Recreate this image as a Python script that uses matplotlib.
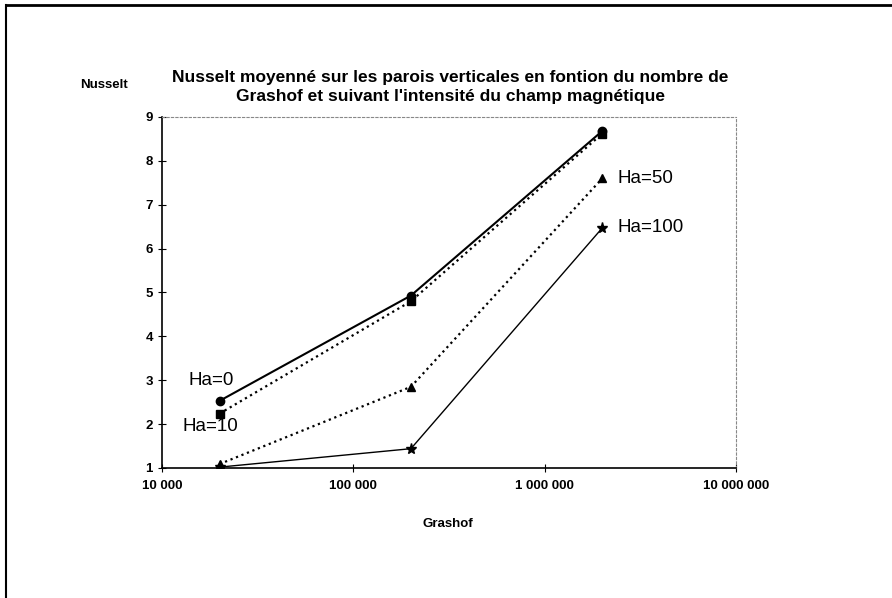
import matplotlib.pyplot as plt
from matplotlib.lines import Line2D

plt.rcParams['font.family'] = ['Liberation Sans', 'DejaVu Sans']

grashof = [2e4, 2e5, 2e6]
nu_ha0 = [2.53, 4.93, 8.68]
nu_ha10 = [2.24, 4.80, 8.62]
nu_ha50 = [1.09, 2.85, 7.60]
nu_ha100 = [1.02, 1.44, 6.47]

x_ticks = [1e4, 1e5, 1e6, 1e7]
x_labels = ['10 000', '100 000', '1 000 000', '10 000 000']
y_ticks = [1, 2, 3, 4, 5, 6, 7, 8, 9]

fig = plt.figure(figsize=(8.92, 5.98), dpi=100)
ax = fig.add_axes([0.1816, 0.2174, 0.6435, 0.587])

ax.plot(grashof, nu_ha0, '-', color='black', lw=1.5, marker='o', ms=6)
ax.plot(grashof, nu_ha10, ':', color='black', lw=1.6, marker='s', ms=6)
ax.plot(grashof, nu_ha50, ':', color='black', lw=1.6, marker='^', ms=6)
ax.plot(grashof, nu_ha100, '-', color='black', lw=1.0, marker='*', ms=8)

ax.set_xscale('log')
ax.set_xlim(1e4, 1e7)
ax.set_ylim(1, 9)
ax.set_xticks(x_ticks)
ax.set_xticklabels(x_labels)
ax.minorticks_off()
ax.set_yticks(y_ticks)
ax.tick_params(direction='inout', length=6, width=0.8, labelsize=9.5)
for lab in ax.get_xticklabels() + ax.get_yticklabels():
    lab.set_fontweight('bold')
ax.xaxis.set_tick_params(pad=6)

for side in ['top', 'right']:
    ax.spines[side].set_linestyle((0, (2, 2)))
    ax.spines[side].set_color('#888888')
    ax.spines[side].set_linewidth(0.8)
for side in ['left', 'bottom']:
    ax.spines[side].set_linewidth(1.2)

# curve labels
ax.text(1.8e4, 3.0, 'Ha=0', fontsize=13.5, ha='center', va='center')
ax.text(1.8e4, 1.95, 'Ha=10', fontsize=13.5, ha='center', va='center')
ax.text(2.4e6, 7.6, 'Ha=50', fontsize=13.5, ha='left', va='center')
ax.text(2.4e6, 6.47, 'Ha=100', fontsize=13.5, ha='left', va='center')

fig.text(0.505, 0.855, "Nusselt moyenné sur les parois verticales en fontion du nombre de\n"
         "Grashof et suivant l'intensité du champ magnétique",
         ha='center', va='center', fontsize=12.5, fontweight='bold', linespacing=1.35)
fig.text(0.09, 0.858, 'Nusselt', ha='left', va='center', fontsize=9.5, fontweight='bold')
fig.text(0.502, 0.124, 'Grashof', ha='center', va='center', fontsize=9.5, fontweight='bold')

# outer frame (top and left only visible)
fig.add_artist(Line2D([6 / 892, 1], [1 - 5 / 598, 1 - 5 / 598], color='black', lw=2,
                      transform=fig.transFigure))
fig.add_artist(Line2D([6 / 892, 6 / 892], [0, 1 - 5 / 598], color='black', lw=1.5,
                      transform=fig.transFigure))

fig.savefig('out.png', dpi=100)
